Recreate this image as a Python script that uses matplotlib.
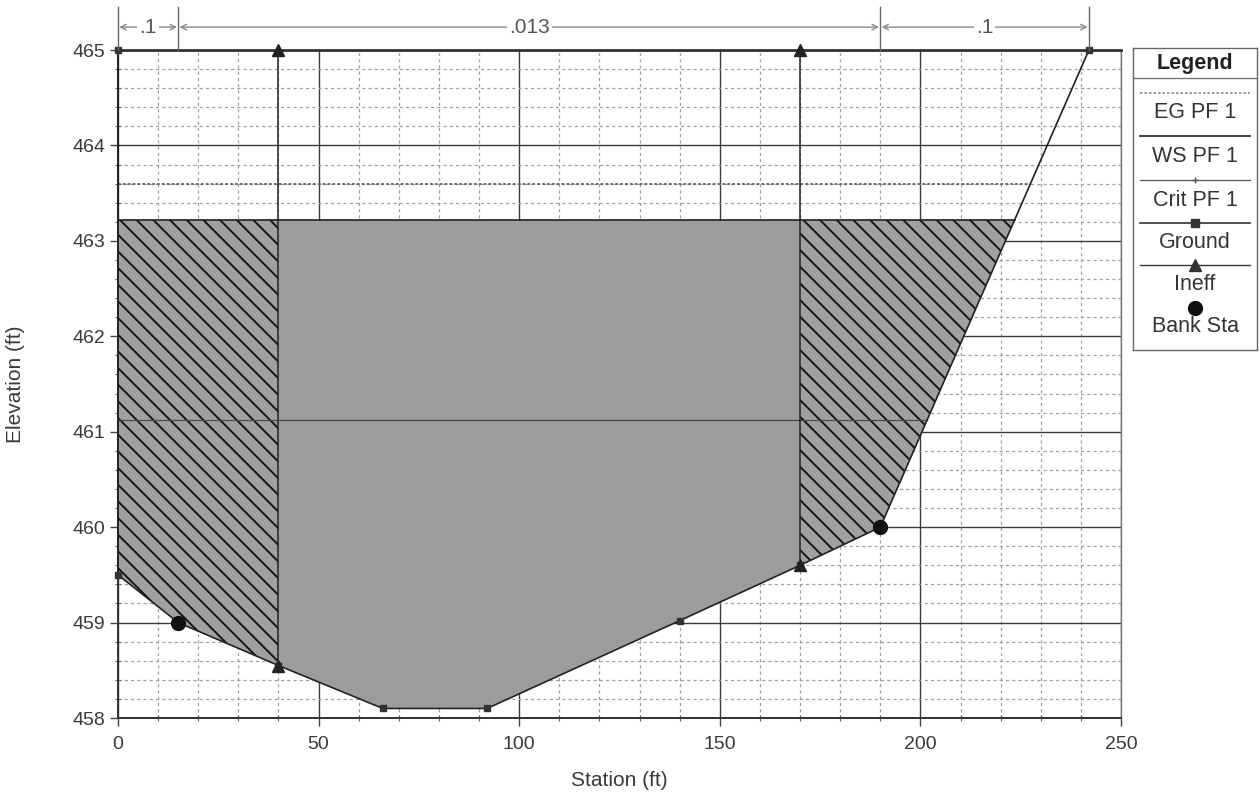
import numpy as np
import matplotlib
matplotlib.use("Agg")
import matplotlib.pyplot as plt
from matplotlib.ticker import MultipleLocator

plt.rcParams['font.family'] = ['Liberation Sans', 'DejaVu Sans']
plt.rcParams['hatch.linewidth'] = 1.4

# ---------------- data ----------------
station = [0, 0, 15, 40, 66, 92, 140, 170, 190, 242]
elevation = [465, 459.5, 459.0, 458.55, 458.1, 458.1, 459.02, 459.6, 460.0, 465]
bank_sta = [15, 190]
ineff_sta = [40, 170]
ineff_top = 465.0
ws_pf1 = 463.22
eg_pf1 = 463.6
crit_pf1 = 461.12
n_break_sta = [0, 15, 190, 242]
n_values = ['.1', '.013', '.1']
legend_labels = ['EG PF 1', 'WS PF 1', 'Crit PF 1', 'Ground', 'Ineff', 'Bank Sta']

st = np.array(station, float)
el = np.array(elevation, float)
gx = st[1:]
gy = el[1:]

def ground_at(x):
    return np.interp(x, gx, gy)

right_mask = gx >= bank_sta[1]
def right_cross(level):
    return float(np.interp(level, gy[right_mask], gx[right_mask]))

fig = plt.figure(figsize=(12.6, 7.99), dpi=100)
ax = fig.add_axes([118/1260, 1-718/799, (1121-118)/1260, (718-50)/799])

ax.set_xlim(0, 250)
ax.set_ylim(458, 465)

# grid
ax.xaxis.set_major_locator(MultipleLocator(50))
ax.xaxis.set_minor_locator(MultipleLocator(10))
ax.yaxis.set_major_locator(MultipleLocator(1))
ax.yaxis.set_minor_locator(MultipleLocator(0.2))
ax.grid(True, which='major', color='#3a3a3a', lw=1.0, ls='-', zorder=0)
ax.grid(True, which='minor', color='#a0a0a0', lw=0.9, ls=(0, (2.5, 2.5)), zorder=0)
ax.set_axisbelow(True)

# water fill regions
x_right = right_cross(ws_pf1)
regions = [(0, ineff_sta[0], True), (ineff_sta[0], ineff_sta[1], False), (ineff_sta[1], x_right, True)]
for a, b, hatched in regions:
    xs = np.array([a] + [v for v in gx if a < v < b] + [b], float)
    ys = ground_at(xs)
    if hatched:
        ax.fill_between(xs, ys, ws_pf1, facecolor='#a0a0a0', edgecolor='#151515',
                        hatch='\\\\', lw=0, zorder=2)
    else:
        ax.fill_between(xs, ys, ws_pf1, facecolor='#9c9c9c', lw=0, zorder=2)

# EG, WS, Crit lines
ax.plot([0, right_cross(eg_pf1)], [eg_pf1, eg_pf1], color='#606060', lw=1.3,
        ls=(0, (1.5, 1.2)), zorder=3)
ax.plot([0, x_right], [ws_pf1, ws_pf1], color='#222222', lw=1.2, zorder=3)
ax.plot([0, right_cross(crit_pf1)], [crit_pf1, crit_pf1], color='#4a4a4a', lw=0.9, zorder=3)

# ineffective lines
for s in ineff_sta:
    ax.plot([s, s], [ineff_top, ground_at(s)], color='#222222', lw=1.1, zorder=4)
    ax.plot([s, s], [ineff_top, ground_at(s)], ls='none', marker='^', ms=8,
            color='#222222', zorder=6, clip_on=False)

# ground
ax.plot(st, el, color='#222222', lw=1.2, zorder=5, clip_on=False)
ax.plot(st, el, ls='none', marker='s', ms=5, color='#333333', zorder=5, clip_on=False)

# bank stations
ax.plot(bank_sta, ground_at(np.array(bank_sta, float)), ls='none', marker='o', ms=10,
        color='#111111', zorder=7)

# spines
for side in ['left', 'bottom', 'top']:
    ax.spines[side].set_color('#333333')
    ax.spines[side].set_linewidth(1.4)
ax.spines['top'].set_linewidth(2.0)
ax.spines['right'].set_color('#777777')
ax.spines['right'].set_linewidth(1.0)

ax.tick_params(which='major', direction='out', length=6, width=1, color='#444444',
               labelsize=14, labelcolor='#3a3a3a', pad=3)
ax.tick_params(axis='x', which='major', pad=7)
ax.tick_params(which='minor', direction='inout', length=5, width=0.8, color='#666666')
ax.set_xticks([0, 50, 100, 150, 200, 250])
ax.set_xlabel('Station (ft)', fontsize=15, color='#3a3a3a', labelpad=13)
ax.set_ylabel('Elevation (ft)', fontsize=15, color='#3a3a3a', labelpad=34)

# Manning's n annotation
yn = 465.24
for s in n_break_sta:
    ax.plot([s, s], [465.0, 465.45], color='#666666', lw=1.0, clip_on=False, zorder=6)
for i, lab in enumerate(n_values):
    a, b = n_break_sta[i], n_break_sta[i + 1]
    ax.annotate('', xy=(a + 0.3, yn), xytext=(b - 0.3, yn),
                arrowprops=dict(arrowstyle='<->', color='#8a8a8a', lw=1.0,
                                shrinkA=0, shrinkB=0, mutation_scale=10),
                annotation_clip=False)
    ax.text((a + b) / 2, yn, lab, ha='center', va='center', fontsize=15, color='#555555',
            bbox=dict(facecolor='white', edgecolor='none', pad=1.5), clip_on=False, zorder=7)

# ---------------- legend box ----------------
top_px, bot_px = 48, 350
lax = fig.add_axes([1133/1260, 1-bot_px/799, 124/1260, (bot_px-top_px)/799])
lax.set_xlim(0, 1)
lax.set_ylim(0, 1)
lax.set_xticks([])
lax.set_yticks([])
for sp in lax.spines.values():
    sp.set_color('#666666')
    sp.set_linewidth(1.0)

def fy(p):
    return (bot_px - p) / (bot_px - top_px)

lax.text(0.5, fy(63), 'Legend', ha='center', va='center', fontsize=15.5, color='#222222',
         fontweight='semibold')
lax.plot([0, 1], [fy(78), fy(78)], color='#777777', lw=1.0)

sym_y = [93, 136, 180, 223, 265, 308]
txt_y = [113, 157, 200, 243, 285, 327]
styles = [
    dict(color='#8a8a8a', lw=1.2, ls=(0, (1.5, 1.2)), marker=None),
    dict(color='#333333', lw=1.3, ls='-', marker=None),
    dict(color='#555555', lw=0.9, ls='-', marker='+', ms=5),
    dict(color='#333333', lw=1.2, ls='-', marker='s', ms=6),
    dict(color='#333333', lw=1.0, ls='-', marker='^', ms=9),
    dict(color='#111111', lw=0, ls='none', marker='o', ms=10),
]
for lab, sy, ty, stl in zip(legend_labels, sym_y, txt_y, styles):
    marker = stl.pop('marker')
    ms = stl.pop('ms', 0)
    lax.plot([0.06, 0.94], [fy(sy), fy(sy)], **stl)
    if marker:
        lax.plot([0.5], [fy(sy)], marker=marker, ms=ms, color=stl['color'], ls='none')
    lax.text(0.5, fy(ty), lab, ha='center', va='center', fontsize=15.5, color='#333333')

fig.savefig('out.png', dpi=100, facecolor='white')
